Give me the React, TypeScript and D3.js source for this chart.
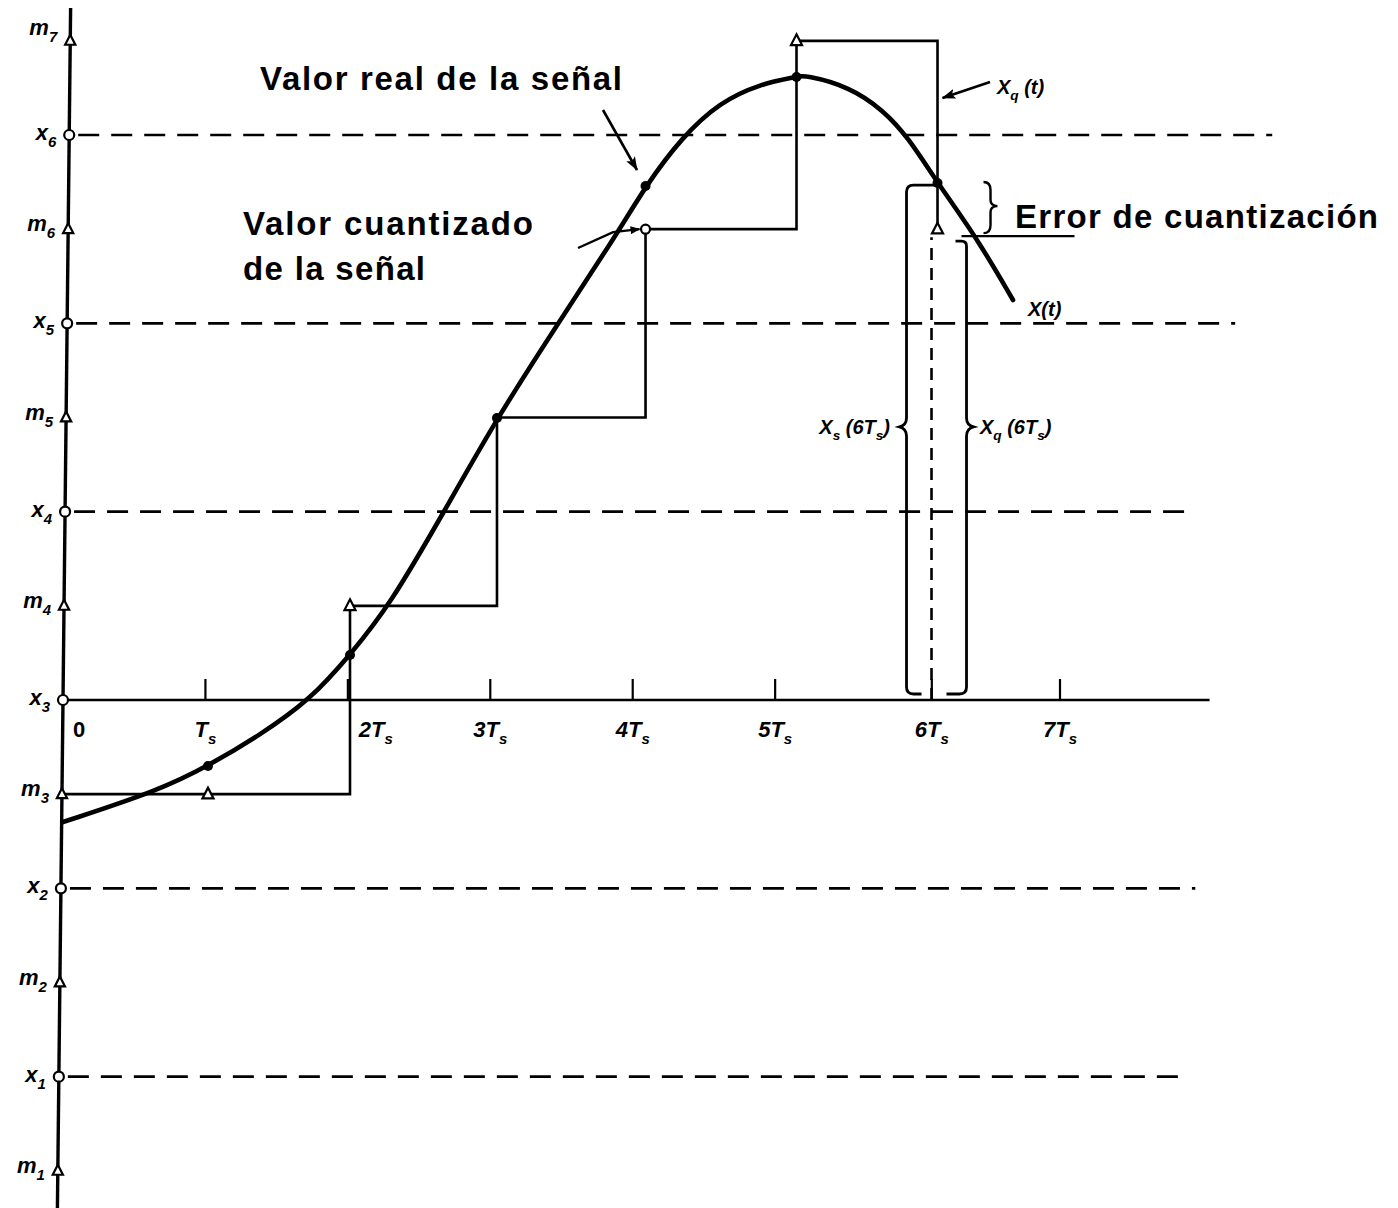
import React from "react";
import * as d3 from "d3";

const W = 1398;
const H = 1208;

// Decision levels x_k and quantization levels m_k (in level units, x3 = 0)
const xLevelIdx = [1, 2, 3, 4, 5, 6];
const xLevelValues = [-2, -1, 0, 1, 2, 3];
const xLevelLineEnds = [7.91, 7.95, 8.05, 7.95, 8.23, 8.49]; // in Ts units
const mLevelIdx = [1, 2, 3, 4, 5, 6, 7];
const mLevelValues = [-2.5, -1.5, -0.5, 0.5, 1.5, 2.5, 3.5];

// Time axis ticks
const tickTimes = [0, 1, 2, 3, 4, 5, 6.1, 7];
const tickPrefixes = ["0", "", "2", "3", "4", "5", "6", "7"];

// Continuous signal x(t)
const curveT = [0, 0.681, 1.018, 1.383, 1.734, 2.015, 2.296, 2.682, 3.047, 3.454, 3.876, 4.09, 4.346, 4.613, 4.894, 5.15, 5.21, 5.525, 5.757, 5.933, 6.14, 6.417, 6.67];
const curveV = [-0.648, -0.478, -0.35, -0.186, 0, 0.239, 0.504, 1.009, 1.497, 1.975, 2.458, 2.729, 2.989, 3.175, 3.271, 3.308, 3.319, 3.255, 3.133, 2.989, 2.745, 2.453, 2.124];

// Samples
const sampleT = [0, 1.018, 2.015, 3.047, 4.09, 5.15, 6.14];
const sampleV = [-0.648, -0.35, 0.239, 1.497, 2.729, 3.308, 2.745];
const quantMarker = ["none", "tri", "tri", "none", "circle", "tri", "tri"];

const SANS = "'Liberation Sans', Arial, Helvetica, sans-serif";

const sx = d3.scaleLinear().domain([0, 7]).range([63, 1060]);
const sy = d3.scaleLinear().domain([0, 3]).range([700, 135]);
const lean = 0.011;
const axisX = (y: number) => sx(0) + (sy(0) - y) * lean;
const quantize = (v: number) => Math.floor(v) + 0.5;

const tri = (cx: number, cy: number, s = 6) =>
  `M${cx},${cy - s} L${cx + s * 0.85},${cy + s * 0.65} L${cx - s * 0.85},${cy + s * 0.65} Z`;

type Part = [string, boolean];

function Rich({ x, y, parts, size, anchor = "start", italic = true }: { x: number; y: number; parts: Part[]; size: number; anchor?: string; italic?: boolean }) {
  let cur = 0;
  return (
    <text x={x} y={y} fontFamily={SANS} fontWeight="bold" fontStyle={italic ? "italic" : "normal"} fontSize={size} textAnchor={anchor as any} fill="#000">
      {parts.map(([t, sub], i) => {
        const target = sub ? size * 0.32 : 0;
        const dy = target - cur;
        cur = target;
        return (
          <tspan key={i} dy={dy} fontSize={sub ? size * 0.68 : size}>
            {t}
          </tspan>
        );
      })}
    </text>
  );
}

export default function App() {
  const curveLine = d3
    .line<[number, number]>()
    .x((d) => sx(d[0]))
    .y((d) => sy(d[1]))
    .curve(d3.curveBasis);
  const curvePts: [number, number][] = curveT.map((t, i) => [t, curveV[i]]);

  const stairLine = d3
    .line<[number, number]>()
    .x((d) => sx(d[0]))
    .y((d) => sy(d[1]))
    .curve(d3.curveStepAfter);
  const stairPts: [number, number][] = sampleT.map((t, i) => [t, quantize(sampleV[i])]);

  // 6Ts bracket geometry
  const n = sampleT.length - 1;
  const xs6 = sx(sampleT[n]);
  const yS6 = sy(sampleV[n]);
  const yQ6 = sy(quantize(sampleV[n]));
  const yB = sy(0) - 6;
  const yc = sy(1.45);
  const xL = xs6 - 31;
  const xR = xs6 + 29;
  const yTopL = yS6 + 2;
  const yTopR = yQ6 + 12;

  const leftBracket = `M${xs6},${yTopL} L${xL + 7},${yTopL} Q${xL},${yTopL} ${xL},${yTopL + 7} L${xL},${yc - 9} Q${xL},${yc - 2} ${xL - 7},${yc} Q${xL},${yc + 2} ${xL},${yc + 9} L${xL},${yB - 7} Q${xL},${yB} ${xL + 7},${yB} L${xL + 15},${yB}`;
  const rightBracket = `M${xs6 + 18},${yTopR} L${xR - 5},${yTopR} Q${xR},${yTopR} ${xR},${yTopR + 5} L${xR},${yc - 9} Q${xR},${yc - 2} ${xR + 7},${yc} Q${xR},${yc + 2} ${xR},${yc + 9} L${xR},${yB - 7} Q${xR},${yB} ${xR - 7},${yB} L${xR - 20},${yB}`;
  const bx = xs6 + 52;
  const ym = (yS6 + yQ6) / 2;
  const errBrace = `M${bx - 6},${yS6 - 1} Q${bx + 1},${yS6 - 1} ${bx + 1},${yS6 + 7} L${bx + 1},${ym - 6} Q${bx + 1},${ym} ${bx + 8},${ym} Q${bx + 1},${ym} ${bx + 1},${ym + 6} L${bx + 1},${yQ6 - 4} Q${bx + 1},${yQ6 + 4} ${bx - 6},${yQ6 + 4}`;

  return (
    <svg width={W} height={H} viewBox={`0 0 ${W} ${H}`} style={{ position: "absolute", left: 0, top: 0, background: "#fff" }}>
      <defs>
        <marker id="arr" viewBox="0 0 14 10" refX="13" refY="5" markerWidth="14" markerHeight="10" markerUnits="userSpaceOnUse" orient="auto">
          <path d="M0,0 L14,5 L0,10 L3,5 Z" fill="#000" />
        </marker>
        <marker id="arrs" viewBox="0 0 10 8" refX="9" refY="4" markerWidth="10" markerHeight="8" markerUnits="userSpaceOnUse" orient="auto">
          <path d="M0,0 L10,4 L0,8 Z" fill="#000" />
        </marker>
      </defs>
      <rect x={0} y={0} width={W} height={H} fill="#fff" />

      {/* dashed decision-level lines */}
      {xLevelValues.map((v, i) =>
        v === 0 ? null : (
          <line key={"xl" + i} x1={axisX(sy(v)) + 9} x2={sx(xLevelLineEnds[i])} y1={sy(v)} y2={sy(v)} stroke="#000" strokeWidth={2.6} strokeDasharray="21 12" />
        )
      )}

      {/* time axis */}
      <line x1={axisX(sy(0))} x2={sx(xLevelLineEnds[2])} y1={sy(0)} y2={sy(0)} stroke="#000" strokeWidth={2.6} />
      {tickTimes.map((t, i) =>
        t === 0 ? null : <line key={"tk" + i} x1={sx(t)} x2={sx(t)} y1={sy(0)} y2={sy(0) - 21} stroke="#000" strokeWidth={2.2} />
      )}
      {tickTimes.map((t, i) => {
        if (i === 0) return <Rich key={"tl" + i} x={sx(t) + 10} y={sy(0) + 37} parts={[["0", false]]} size={22} italic={false} />;
        const parts: Part[] = [];
        if (tickPrefixes[i]) parts.push([tickPrefixes[i], false]);
        parts.push(["T", false]);
        parts.push(["s", true]);
        return <Rich key={"tl" + i} x={sx(t) + (i === 2 ? 28 : 0)} y={sy(0) + 37} parts={parts} size={22} anchor="middle" />;
      })}

      {/* vertical amplitude axis */}
      <line x1={axisX(8)} y1={8} x2={axisX(H)} y2={H} stroke="#000" strokeWidth={3.4} />

      {/* quantized staircase */}
      <path d={stairLine(stairPts) || ""} fill="none" stroke="#000" strokeWidth={2.6} strokeLinejoin="miter" />

      {/* continuous signal */}
      <path d={curveLine(curvePts) || ""} fill="none" stroke="#000" strokeWidth={4.6} strokeLinecap="round" />

      {/* 6Ts construction */}
      <line x1={xs6 - 6} x2={xs6 - 6} y1={sy(0)} y2={yQ6 + 8} stroke="#000" strokeWidth={2.6} strokeDasharray="12 8" />
      <path d={leftBracket} fill="none" stroke="#000" strokeWidth={2.8} />
      <path d={rightBracket} fill="none" stroke="#000" strokeWidth={2.8} />
      <path d={errBrace} fill="none" stroke="#000" strokeWidth={2.4} />
      <line x1={xs6 + 24} x2={xs6 + 137} y1={yQ6 + 7} y2={yQ6 + 7} stroke="#000" strokeWidth={2.4} />

      {/* quantized-value markers */}
      {sampleT.map((t, i) => {
        const q = quantize(sampleV[i]);
        if (quantMarker[i] === "tri") return <path key={"qm" + i} d={tri(sx(t), sy(q), 6.5)} fill="#fff" stroke="#000" strokeWidth={2.2} />;
        if (quantMarker[i] === "circle") return <circle key={"qm" + i} cx={sx(t)} cy={sy(q)} r={4.5} fill="#fff" stroke="#000" strokeWidth={2.2} />;
        return null;
      })}

      {/* sample dots on the signal */}
      {sampleT.map((t, i) => (i === 0 ? null : <circle key={"sd" + i} cx={sx(t)} cy={sy(sampleV[i])} r={5} fill="#000" />))}

      {/* level markers on vertical axis */}
      {xLevelValues.map((v, i) => (
        <circle key={"xm" + i} cx={axisX(sy(v))} cy={sy(v)} r={5} fill="#fff" stroke="#000" strokeWidth={2.2} />
      ))}
      {mLevelValues.map((v, i) => (
        <path key={"mm" + i} d={tri(axisX(sy(v)), sy(v), 6)} fill="#fff" stroke="#000" strokeWidth={2.2} />
      ))}

      {/* level labels */}
      {xLevelValues.map((v, i) => (
        <Rich key={"xlab" + i} x={axisX(sy(v)) - 13} y={sy(v) + 5} parts={[["x", false], [String(xLevelIdx[i]), true]]} size={22} anchor="end" />
      ))}
      {mLevelValues.map((v, i) => (
        <Rich key={"mlab" + i} x={axisX(sy(v)) - 13} y={sy(v) + (i === 6 ? -6 : 2)} parts={[["m", false], [String(mLevelIdx[i]), true]]} size={22} anchor="end" />
      ))}

      {/* annotations */}
      <text x={260} y={90} fontFamily={SANS} fontWeight="bold" fontSize={33} textLength={362} lengthAdjust="spacing">Valor real de la señal</text>
      <line x1={603} y1={110} x2={637} y2={170} stroke="#000" strokeWidth={2.6} markerEnd="url(#arr)" />

      <text x={243} y={235} fontFamily={SANS} fontWeight="bold" fontSize={33} textLength={290} lengthAdjust="spacing">Valor cuantizado</text>
      <text x={243} y={280} fontFamily={SANS} fontWeight="bold" fontSize={33} textLength={182} lengthAdjust="spacing">de la señal</text>
      <polyline points={`578,248 ${sx(3.876) - 2},${sy(2.5) + 3} ${sx(4.09) - 6},${sy(2.5)}`} fill="none" stroke="#000" strokeWidth={2.4} markerEnd="url(#arrs)" />

      <text x={1015} y={228} fontFamily={SANS} fontWeight="bold" fontSize={33} textLength={363} lengthAdjust="spacing">Error de cuantización</text>

      <Rich x={997} y={94} parts={[["X", false], ["q", true], [" (t)", false]]} size={20} />
      <line x1={990} y1={82} x2={xs6 + 5} y2={98} stroke="#000" strokeWidth={2.6} markerEnd="url(#arr)" />

      <Rich x={1028} y={316} parts={[["X(t)", false]]} size={20} />
      <Rich x={890} y={434} parts={[["X", false], ["s", true], [" (6T", false], ["s", true], [")", false]]} size={20} anchor="end" />
      <Rich x={980} y={434} parts={[["X", false], ["q", true], [" (6T", false], ["s", true], [")", false]]} size={20} />
    </svg>
  );
}
